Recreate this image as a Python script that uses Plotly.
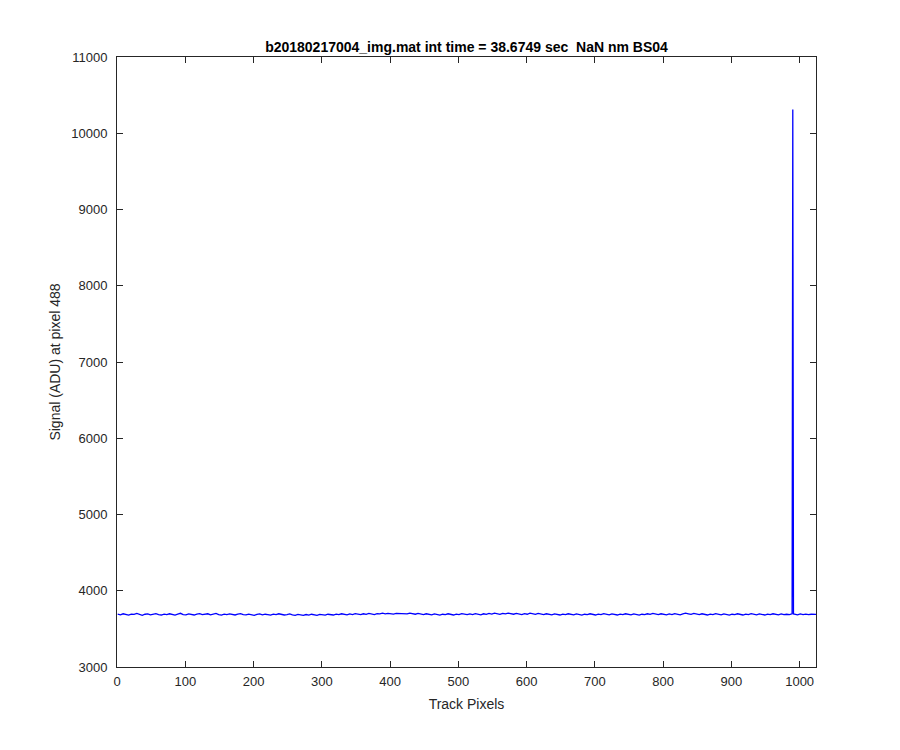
import plotly.graph_objects as go

# Track pixel positions (sampled every 4 pixels) and signal values (ADU)
pixels = list(range(1, 1024, 4))
signal = [
    3692, 3684, 3698, 3688, 3680, 3694, 3690, 3702, 3686, 3678, 3692, 3696, 3684, 3690, 3700, 3688,
    3682, 3694, 3686, 3698, 3690, 3680, 3692, 3704, 3688, 3684, 3696, 3690, 3682, 3694, 3700, 3686,
    3690, 3698, 3684, 3692, 3702, 3688, 3680, 3694, 3686, 3696, 3690, 3682, 3692, 3700, 3688, 3684,
    3694, 3686, 3678, 3690, 3696, 3684, 3692, 3688, 3680, 3694, 3686, 3698, 3690, 3682, 3688, 3696,
    3684, 3678, 3690, 3682, 3676, 3688, 3680, 3692, 3684, 3678, 3690, 3686, 3680, 3692, 3688, 3682,
    3694, 3686, 3698, 3690, 3684, 3696, 3688, 3700, 3692, 3686, 3698, 3690, 3702, 3694, 3688, 3700,
    3696, 3706, 3698, 3704, 3702, 3694, 3702, 3700, 3706, 3704, 3696, 3706, 3698, 3692, 3702, 3694,
    3688, 3698, 3690, 3684, 3696, 3688, 3680, 3692, 3686, 3698, 3690, 3682, 3694, 3688, 3700, 3692,
    3686, 3696, 3688, 3700, 3692, 3684, 3698, 3690, 3702, 3694, 3706, 3698, 3690, 3704, 3696, 3706,
    3700, 3692, 3704, 3696, 3688, 3700, 3692, 3706, 3698, 3690, 3702, 3694, 3686, 3698, 3690, 3684,
    3696, 3688, 3682, 3694, 3686, 3698, 3690, 3684, 3696, 3688, 3680, 3692, 3686, 3698, 3690, 3682,
    3694, 3688, 3700, 3692, 3684, 3696, 3690, 3682, 3694, 3686, 3698, 3692, 3684, 3696, 3688, 3680,
    3692, 3686, 3698, 3690, 3702, 3694, 3686, 3698, 3692, 3684, 3696, 3688, 3700, 3692, 3684, 3696,
    3706, 3698, 3690, 3702, 3694, 3686, 3698, 3690, 3682, 3694, 3688, 3700, 3692, 3684, 3696, 3688,
    3680, 3692, 3686, 3698, 3690, 3682, 3694, 3688, 3700, 3692, 3684, 3696, 3690, 3682, 3694, 3686,
    3698, 3690, 3684, 3696, 3688, 3692, 3686, 3698, 3690, 3684, 3696, 3688, 3694, 3686, 3692, 3688,
]
# Hot-pixel spike near the end of the track, plus the last pixel
spike_pixels = [990, 991, 1024]
spike_signal = [10310, 3695, 3690]

pts = sorted(zip(pixels + spike_pixels, signal + spike_signal))
xs = [p[0] for p in pts]
ys = [p[1] for p in pts]

x_ticks = list(range(0, 1001, 100))
y_ticks = list(range(3000, 11001, 1000))

title_text = "b20180217004_img.mat int time = 38.6749 sec  NaN nm BS04"

axis_color = "#262626"
font_family = "Liberation Sans, Arial, sans-serif"

W, H = 884, 734

fig = go.Figure()
fig.add_trace(go.Scatter(x=xs, y=ys, mode="lines",
                         line=dict(color="#0000FF", width=1.3),
                         showlegend=False, hoverinfo="skip"))

common = dict(showgrid=False, zeroline=False, showline=True, linecolor=axis_color,
              linewidth=1, mirror="allticks", ticks="inside", ticklen=6,
              tickcolor=axis_color, tickwidth=1,
              tickfont=dict(family=font_family, size=13, color=axis_color))

fig.update_layout(
    width=W, height=H,
    paper_bgcolor="white", plot_bgcolor="white",
    margin=dict(l=109, r=76, t=49, b=75),
    title=dict(text="<b>" + title_text + "</b>", x=0.5, xref="paper", xanchor="center",
               y=1 - 44/H, yanchor="bottom", yref="container",
               font=dict(family=font_family, size=14, color="black")),
    xaxis=dict(range=[0, 1024], tickvals=x_ticks, ticktext=[str(v) for v in x_ticks],
               ticklabelstandoff=2,
               title=dict(text="Track Pixels", standoff=11,
                          font=dict(family=font_family, size=14, color=axis_color)),
               **common),
    yaxis=dict(range=[3000, 11000], tickvals=y_ticks, ticktext=[str(v) for v in y_ticks],
               ticklabelstandoff=6,
               title=dict(text="Signal (ADU) at pixel 488", standoff=7,
                          font=dict(family=font_family, size=14, color=axis_color)),
               **common),
)

fig.write_html("out.html")
